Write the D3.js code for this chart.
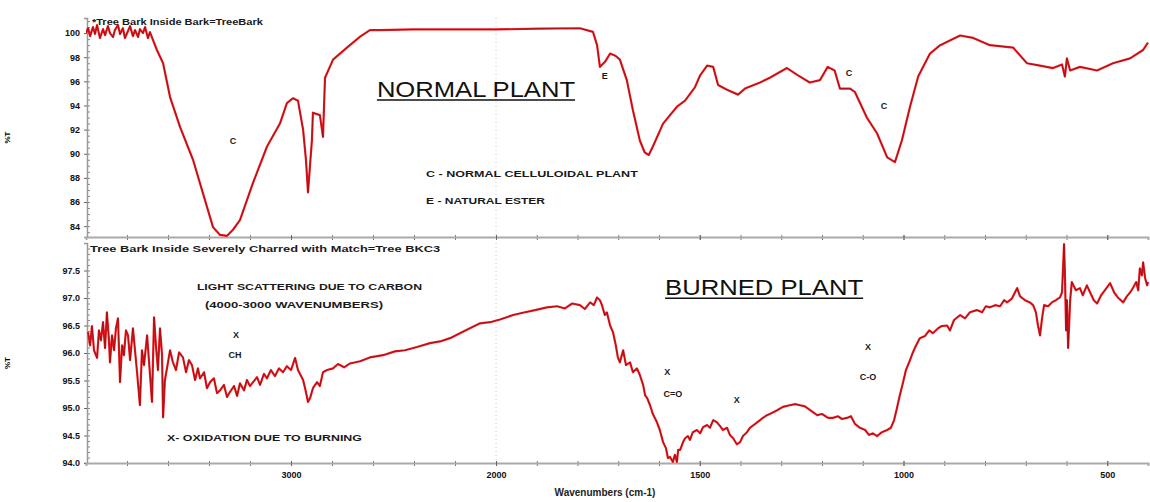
<!DOCTYPE html>
<html>
<head>
<meta charset="utf-8">
<script src="https://cdn.jsdelivr.net/npm/d3@7"></script>
<style>
  body { margin: 0; background: #fff; }
  svg { display: block; font-family: "Liberation Sans", Arial, sans-serif; }
</style>
</head>
<body>
<svg id="chart" width="1150" height="502"></svg>
<script>
// ---- data: wavenumber (cm-1) and %T ----
const normalWavenumbers = [4000, 3990, 3980, 3966, 3956, 3946, 3932, 3917, 3907, 3893, 3883, 3868, 3859, 3844, 3834, 3820, 3810, 3795, 3785, 3771, 3761, 3746, 3737, 3722, 3712, 3698, 3688, 3673, 3654, 3624, 3590, 3541, 3478, 3429, 3380, 3346, 3312, 3283, 3249, 3185, 3117, 3054, 3020, 2990, 2966, 2941, 2927, 2917, 2907, 2898, 2893, 2859, 2844, 2834, 2795, 2727, 2663, 2615, 2566, 2405, 2224, 2000, 1892, 1794, 1762, 1752, 1745, 1733, 1720, 1706, 1696, 1679, 1664, 1647, 1635, 1625, 1615, 1590, 1556, 1536, 1512, 1499, 1482, 1467, 1455, 1433, 1406, 1389, 1352, 1328, 1286, 1259, 1230, 1205, 1186, 1169, 1156, 1131, 1119, 1090, 1065, 1040, 1021, 1004, 984, 964, 935, 910, 861, 829, 788, 731, 697, 665, 633, 611, 604, 599, 591, 567, 525, 486, 444, 412, 400];
const normalTransmittance = [100.0, 100.41, 99.75, 100.5, 99.92, 100.66, 99.59, 100.33, 99.83, 100.58, 100.0, 99.67, 100.25, 100.66, 99.92, 100.41, 99.59, 100.17, 100.58, 99.75, 100.25, 99.67, 100.33, 100.0, 100.5, 99.59, 100.08, 99.42, 98.6, 97.5, 94.7, 92.2, 89.5, 86.7, 83.9, 83.27, 83.2, 83.7, 84.5, 87.6, 90.6, 92.5, 94.2, 94.6, 94.4, 92.0, 89.5, 86.8, 89.1, 91.1, 93.4, 93.2, 91.4, 96.3, 97.8, 98.8, 99.7, 100.25, 100.25, 100.3, 100.3, 100.3, 100.37, 100.4, 100.1, 99.0, 97.2, 97.6, 98.3, 98.1, 97.8, 96.1, 93.6, 91.1, 90.1, 89.9, 90.6, 92.5, 93.9, 94.4, 95.5, 96.5, 97.3, 97.2, 95.7, 95.3, 94.9, 95.4, 95.9, 96.3, 97.1, 96.5, 95.9, 96.1, 97.2, 96.9, 95.4, 95.4, 95.1, 93.0, 91.7, 89.7, 89.3, 91.1, 93.9, 96.4, 98.3, 99.0, 99.8, 99.6, 99.0, 98.8, 97.5, 97.3, 97.1, 97.4, 96.4, 97.9, 96.9, 97.2, 96.9, 97.5, 97.9, 98.6, 99.2];

const burnedWavenumbers = [3990, 3980, 3971, 3961, 3946, 3937, 3927, 3917, 3907, 3898, 3888, 3883, 3873, 3863, 3854, 3844, 3834, 3824, 3815, 3805, 3795, 3785, 3771, 3761, 3751, 3737, 3727, 3717, 3702, 3693, 3678, 3668, 3659, 3649, 3639, 3629, 3624, 3615, 3605, 3590, 3576, 3561, 3546, 3527, 3512, 3498, 3483, 3468, 3454, 3444, 3424, 3410, 3395, 3376, 3361, 3346, 3327, 3312, 3298, 3278, 3263, 3249, 3229, 3215, 3200, 3185, 3166, 3151, 3132, 3117, 3098, 3078, 3059, 3039, 3020, 3000, 2980, 2966, 2941, 2927, 2917, 2907, 2893, 2873, 2859, 2844, 2824, 2795, 2771, 2741, 2712, 2663, 2615, 2551, 2493, 2444, 2385, 2322, 2273, 2224, 2176, 2127, 2078, 2029, 1990, 1958, 1929, 1904, 1875, 1850, 1831, 1813, 1794, 1782, 1769, 1760, 1752, 1745, 1740, 1733, 1728, 1720, 1713, 1706, 1701, 1696, 1688, 1681, 1671, 1664, 1654, 1647, 1639, 1634, 1629, 1622, 1615, 1605, 1598, 1590, 1583, 1578, 1573, 1566, 1561, 1556, 1553, 1548, 1541, 1536, 1529, 1524, 1517, 1507, 1499, 1492, 1482, 1475, 1467, 1458, 1450, 1443, 1433, 1426, 1418, 1409, 1401, 1394, 1384, 1377, 1364, 1352, 1345, 1335, 1323, 1310, 1296, 1279, 1266, 1254, 1242, 1229, 1212, 1200, 1185, 1173, 1161, 1151, 1139, 1129, 1119, 1107, 1094, 1085, 1075, 1065, 1053, 1040, 1031, 1023, 1016, 1009, 1001, 994, 984, 977, 969, 960, 947, 937, 928, 915, 906, 893, 886, 876, 861, 849, 837, 820, 807, 798, 788, 775, 763, 753, 746, 734, 721, 714, 702, 690, 682, 675, 670, 665, 660, 655, 645, 636, 626, 616, 611, 606, 604, 601, 599, 596, 591, 587, 577, 567, 560, 550, 542, 533, 525, 515, 506, 493, 483, 474, 461, 452, 444, 437, 429, 424, 420, 415, 412, 407, 402, 400];
const burnedTransmittance = [96.38, 96.14, 96.49, 96.05, 95.91, 96.41, 96.23, 96.56, 96.09, 96.74, 96.23, 95.83, 96.32, 96.05, 96.45, 96.63, 95.47, 96.14, 95.96, 96.41, 96.32, 95.87, 96.45, 96.05, 95.65, 95.05, 96.05, 95.78, 96.32, 95.87, 95.11, 96.65, 96.14, 95.69, 96.45, 95.96, 94.83, 95.51, 95.72, 96.05, 95.83, 95.69, 96.01, 95.92, 95.65, 95.87, 95.78, 95.51, 95.72, 95.54, 95.65, 95.36, 95.47, 95.54, 95.27, 95.32, 95.42, 95.20, 95.29, 95.40, 95.22, 95.45, 95.32, 95.51, 95.40, 95.47, 95.56, 95.42, 95.62, 95.54, 95.69, 95.58, 95.72, 95.65, 95.76, 95.69, 95.91, 95.69, 95.51, 95.29, 95.11, 95.18, 95.36, 95.47, 95.40, 95.65, 95.69, 95.72, 95.80, 95.74, 95.81, 95.85, 95.92, 95.96, 96.03, 96.05, 96.11, 96.18, 96.21, 96.27, 96.36, 96.45, 96.54, 96.56, 96.61, 96.69, 96.74, 96.78, 96.83, 96.85, 96.81, 96.90, 96.87, 96.80, 96.92, 96.87, 97.01, 96.96, 96.87, 96.69, 96.74, 96.50, 96.38, 96.14, 95.92, 95.83, 96.05, 95.78, 95.83, 95.65, 95.72, 95.60, 95.42, 95.23, 95.18, 95.05, 94.89, 94.74, 94.60, 94.38, 94.27, 94.09, 94.11, 94.02, 94.15, 94.02, 94.24, 94.24, 94.38, 94.45, 94.49, 94.42, 94.56, 94.60, 94.54, 94.65, 94.69, 94.64, 94.78, 94.74, 94.67, 94.60, 94.64, 94.51, 94.45, 94.34, 94.38, 94.49, 94.56, 94.64, 94.71, 94.78, 94.82, 94.87, 94.91, 94.96, 95.02, 95.05, 95.07, 95.05, 95.03, 94.96, 94.87, 94.89, 94.82, 94.82, 94.85, 94.80, 94.82, 94.85, 94.71, 94.64, 94.60, 94.51, 94.54, 94.49, 94.56, 94.60, 94.64, 94.78, 95.00, 95.23, 95.47, 95.69, 95.87, 96.01, 96.14, 96.27, 96.31, 96.41, 96.36, 96.45, 96.49, 96.50, 96.41, 96.60, 96.69, 96.63, 96.74, 96.78, 96.74, 96.85, 96.83, 96.87, 96.85, 96.96, 96.92, 96.99, 97.18, 97.03, 96.96, 96.92, 96.87, 96.74, 96.50, 96.32, 96.63, 96.87, 96.85, 96.92, 96.96, 97.01, 97.10, 97.98, 97.47, 96.41, 96.96, 96.09, 96.96, 97.29, 97.14, 97.18, 97.05, 97.23, 97.10, 96.96, 96.90, 97.05, 97.14, 97.27, 97.10, 97.01, 96.92, 97.03, 97.10, 97.18, 97.29, 97.14, 97.54, 97.41, 97.65, 97.36, 97.23, 97.29];

// tick labels
const xTickValues = [3000, 2000, 1500, 1000, 500];
const normalYTicks = [84, 86, 88, 90, 92, 94, 96, 98, 100];
const burnedYTicks = [94.0, 94.5, 95.0, 95.5, 96.0, 96.5, 97.0, 97.5];

// annotations: text, start/end wavenumber, %T
const normalNotes = [
  { text: "*Tree Bark Inside Bark=TreeBark", from: 3971, to: 3137, t: 100.83 },
  { text: "C - NORMAL CELLULOIDAL PLANT", from: 2341, to: 1652, t: 88.24 },
  { text: "E - NATURAL ESTER", from: 2341, to: 1880, t: 86.0 }
];
const normalMarks = [
  { text: "C", wn: 3283, t: 90.97 },
  { text: "E", wn: 1733, t: 96.35 },
  { text: "C", wn: 1134, t: 96.6 },
  { text: "C", wn: 1048, t: 93.87 }
];
const burnedNotes = [
  { text: "Tree Bark Inside Severely Charred with Match=Tree BKC3", from: 3980, to: 2273, t: 97.88 },
  { text: "LIGHT SCATTERING DUE TO CARBON", from: 3459, to: 2361, t: 97.19 },
  { text: "(4000-3000 WAVENUMBERS)", from: 3420, to: 2551, t: 96.87 },
  { text: "X- OXIDATION DUE TO BURNING", from: 3605, to: 2654, t: 94.45 }
];
const burnedMarks = [
  { text: "X", wn: 3268, t: 96.32 },
  { text: "CH", wn: 3273, t: 95.96 },
  { text: "X", wn: 1580, t: 95.65 },
  { text: "C=O", wn: 1566, t: 95.25 },
  { text: "X", wn: 1409, t: 95.14 },
  { text: "X", wn: 1087, t: 96.09 },
  { text: "C-O", wn: 1087, t: 95.56 }
];

const svg = d3.select("#chart");

// split wavenumber axis like the instrument printout
const x = d3.scaleLinear().domain([4000, 2000, 400]).range([86, 496, 1148]);
const yTop = d3.scaleLinear().domain([83.1, 101.25]).range([237, 18]);
const yBot = d3.scaleLinear().domain([94, 98]).range([463, 243]);

const minorX = d3.range(3800, 2000, -200).concat(d3.range(1900, 400, -100));

function drawPanel(y, yTicks, yMinor, fmt, showXLabels, wn, tr, clipId) {
  const [bottom, top] = y.range();

  svg.append("clipPath").attr("id", clipId)
    .append("rect").attr("x", 86).attr("y", top).attr("width", 1064).attr("height", bottom - top);

  // faint dotted line at the scale break
  svg.append("line")
    .attr("x1", x(2000)).attr("x2", x(2000))
    .attr("y1", top).attr("y2", bottom)
    .attr("stroke", "#ccc").attr("stroke-dasharray", "1,3");

  // minor y ticks
  svg.append("g")
    .attr("transform", "translate(87,0)")
    .call(d3.axisRight(y).tickValues(yMinor).tickSize(3).tickFormat(""))
    .call(g => g.select(".domain").remove())
    .call(g => g.selectAll("line").attr("stroke", "#888"));

  // y axis
  svg.append("g")
    .attr("transform", "translate(87,0)")
    .call(d3.axisLeft(y).tickValues(yTicks).tickSize(3).tickPadding(4).tickFormat(fmt))
    .call(g => g.select(".domain").attr("stroke", "#999").attr("stroke-width", 1.5))
    .call(g => g.selectAll("line").attr("stroke", "#666"))
    .call(g => g.selectAll("text").attr("font-size", 9).attr("font-weight", "bold").attr("fill", "#111"));

  // x axis
  svg.append("g")
    .attr("transform", `translate(0,${bottom})`)
    .call(d3.axisBottom(x).tickValues(minorX).tickSize(3).tickFormat(""))
    .call(g => g.select(".domain").remove())
    .call(g => g.selectAll("line").attr("stroke", "#777").attr("y1", -2));

  svg.append("g")
    .attr("transform", `translate(0,${bottom})`)
    .call(d3.axisBottom(x).tickValues(xTickValues).tickSize(3).tickPadding(6)
      .tickFormat(showXLabels ? d3.format("d") : ""))
    .call(g => g.select(".domain").attr("stroke", "#aaa").attr("stroke-width", 2))
    .call(g => g.selectAll("line").attr("stroke", "#666").attr("y1", -2))
    .call(g => g.selectAll("text").attr("font-size", 9).attr("font-weight", "bold").attr("fill", "#111"));

  // spectrum: red trace with a thin dark core
  const line = d3.line().x(d => x(d[0])).y(d => y(d[1]));
  const pts = d3.zip(wn, tr);
  const g = svg.append("g").attr("clip-path", `url(#${clipId})`);
  g.append("path").datum(pts)
    .attr("d", line).attr("fill", "none")
    .attr("stroke", "#ee1c22").attr("stroke-width", 2.2).attr("stroke-linejoin", "round");
  g.append("path").datum(pts)
    .attr("d", line).attr("fill", "none")
    .attr("stroke", "#5a0505").attr("stroke-opacity", 0.75)
    .attr("stroke-width", 0.6).attr("stroke-linejoin", "round");

  // %T label
  svg.append("text")
    .attr("transform", `translate(10,${(top + bottom) / 2 + 10}) rotate(-90)`)
    .attr("text-anchor", "middle")
    .attr("font-size", 8).attr("font-weight", "bold")
    .text("%T");
}

drawPanel(yTop, normalYTicks, d3.range(83.5, 101.01, 0.5), d3.format("d"), false,
  normalWavenumbers, normalTransmittance, "clipTop");
drawPanel(yBot, burnedYTicks, d3.range(94.1, 97.95, 0.1), d3.format(".1f"), true,
  burnedWavenumbers, burnedTransmittance, "clipBot");

function drawNotes(y, notes, marks) {
  svg.append("g").selectAll("text")
    .data(notes).join("text")
    .attr("x", d => x(d.from))
    .attr("y", d => y(d.t))
    .attr("dominant-baseline", "middle")
    .attr("textLength", d => x(d.to) - x(d.from))
    .attr("lengthAdjust", "spacingAndGlyphs")
    .attr("font-size", 9).attr("font-weight", "bold").attr("fill", "#1a1a1a")
    .text(d => d.text);

  svg.append("g").selectAll("text")
    .data(marks).join("text")
    .attr("x", d => x(d.wn))
    .attr("y", d => y(d.t))
    .attr("dominant-baseline", "middle")
    .attr("text-anchor", "middle")
    .attr("font-size", 9).attr("font-weight", "bold").attr("fill", "#1a1a1a")
    .text(d => d.text);
}

drawNotes(yTop, normalNotes, normalMarks);
drawNotes(yBot, burnedNotes, burnedMarks);

// big underlined panel titles
function title(text, from, to, t, y) {
  const x0 = x(from), x1 = x(to), yy = y(t);
  svg.append("text")
    .attr("x", x0).attr("y", yy)
    .attr("textLength", x1 - x0).attr("lengthAdjust", "spacingAndGlyphs")
    .attr("font-size", 22).attr("fill", "#111")
    .text(text);
  svg.append("line")
    .attr("x1", x0).attr("x2", x1)
    .attr("y1", yy + 3).attr("y2", yy + 3)
    .attr("stroke", "#111").attr("stroke-width", 1.6);
}
title("NORMAL PLANT", 2581, 1806, 94.7, yTop);
title("BURNED PLANT", 1585, 1099, 97.05, yBot);

svg.append("text")
  .attr("x", 605).attr("y", 496)
  .attr("text-anchor", "middle")
  .attr("font-size", 10).attr("font-weight", "bold").attr("fill", "#222")
  .text("Wavenumbers (cm-1)");
</script>
</body>
</html>
